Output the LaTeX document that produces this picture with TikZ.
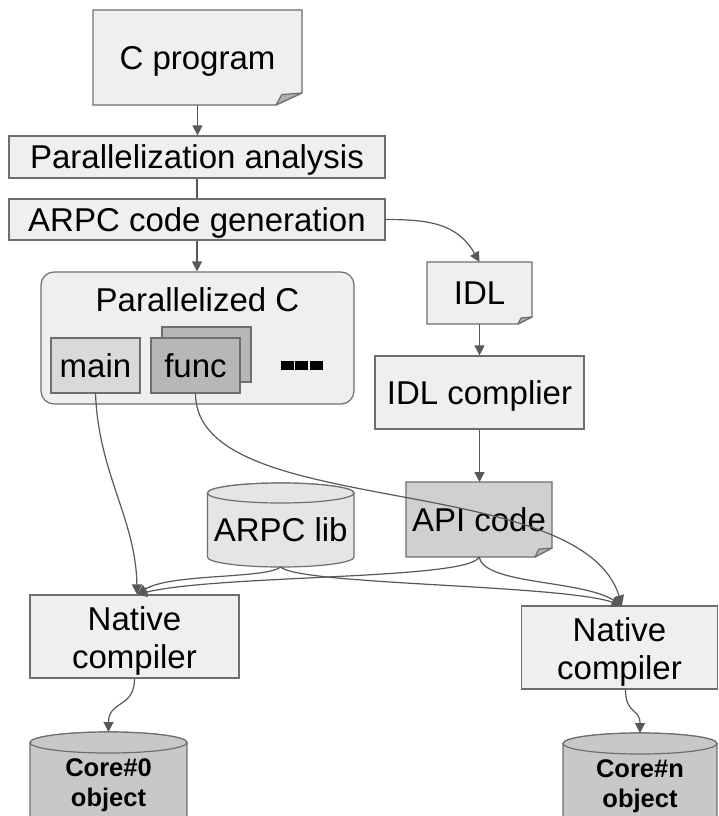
\documentclass[tikz,border=0pt]{standalone}
\usepackage{fontspec}
\setmainfont{Liberation Sans}
\usetikzlibrary{arrows.meta,calc,backgrounds}
\definecolor{bord}{HTML}{6E6E6E}
\definecolor{arr}{HTML}{595959}
\definecolor{lightfill}{HTML}{EFEFEF}
\definecolor{mainfill}{HTML}{D9D9D9}
\definecolor{funcfill}{HTML}{B7B7B7}
\definecolor{apifill}{HTML}{D0D0D0}
\definecolor{libfill}{HTML}{E5E5E5}
\definecolor{corefill}{HTML}{C8C8C8}
\definecolor{foldfill}{HTML}{B0B0B0}
\tikzset{
  outline/.style={draw=bord, line width=1.2pt},
  box/.style={outline, fill=lightfill, inner sep=0pt, font=\fontsize{33}{38}\selectfont, text height=23.6pt, text depth=0pt},
  ghost/.style={inner sep=0pt, outer sep=0pt, font=\fontsize{33}{38}\selectfont, text height=23.6pt, text depth=0pt},
  twoline/.style={outline, fill=lightfill, inner sep=0pt, font=\fontsize{33}{38}\selectfont, align=center, text height=69.9pt},
  coretext/.style={inner sep=0pt, outer sep=0pt, font=\fontsize{25.5}{30}\selectfont\bfseries, align=center},
  dotsq/.style={fill=black, inner sep=0pt, minimum width=13pt, minimum height=9.5pt},
  conn/.style={draw=arr, line width=1.2pt, -{Triangle[length=10pt,width=10pt]}},
  link/.style={draw=arr, line width=1.2pt}
}
\newcommand{\notebox}[4]{%
  \draw[outline, fill=#2] (#1.north west) -- (#1.north east) -- ([yshift=#4pt]#1.south east) -- ([xshift=-#3pt]#1.south east) -- (#1.south west) -- cycle;
  \draw[outline, fill=foldfill, line join=round] ([xshift=-#3pt]#1.south east) -- ([yshift=#4pt]#1.south east) -- ([xshift=-0.78*#3pt, yshift=0.87*#4pt]#1.south east) -- cycle;
}
\newcommand{\cylbox}[4]{%
  \draw[outline, fill=#2] ([yshift=-#4pt]#1.north west) -- ([yshift=#4pt]#1.south west) arc[start angle=180, end angle=360, x radius=#3pt, y radius=#4pt] -- ([yshift=-#4pt]#1.north east) arc[start angle=0, end angle=180, x radius=#3pt, y radius=#4pt] -- cycle;
  \draw[outline, fill=#2] ([yshift=-#4pt]#1.north) ellipse [x radius=#3pt, y radius=#4pt];
}
\begin{document}
\begin{tikzpicture}[x=1pt, y=1pt]
\useasboundingbox (0,0) rectangle (718,-816);

% top chain
\node[ghost, minimum width=209pt, minimum height=95pt] (cprog) at (197.5,-57.5) {C program};
\node[box, minimum width=376pt, minimum height=42pt] (para) at (197,-157) {Parallelization analysis};
\node[box, minimum width=376pt, minimum height=41pt] (arpcgen) at (197,-219.5) {ARPC code generation};

% parallelized C container
\node[outline, fill=lightfill, rounded corners=13pt, minimum width=313pt, minimum height=132pt, inner sep=0pt] (parc) at (197.5,-338) {};
\node[ghost] (parclabel) at (197.5,-299.5) {Parallelized C};
\node[box, fill=funcfill, minimum width=89pt, minimum height=55pt] (funcback) at (206.5,-354.5) {};
\node[box, fill=mainfill, minimum width=89pt, minimum height=55pt] (main) at (95.5,-365.5) {main};
\node[box, fill=funcfill, minimum width=89pt, minimum height=55pt] (func) at (195.5,-365.5) {func};
\node[dotsq] (dot1) at (287.5,-365.5) {};
\node[dotsq] (dot2) at (301.7,-365.5) {};
\node[dotsq] (dot3) at (316,-365.5) {};

% IDL chain
\node[ghost, minimum width=105pt, minimum height=62pt] (idl) at (479.5,-293) {IDL};
\node[box, minimum width=209pt, minimum height=73pt] (idlc) at (479.5,-392.5) {IDL complier};
\node[ghost, minimum width=146pt, minimum height=75pt] (api) at (479,-519.5) {API code};

% library
\node[ghost, minimum width=146.6pt, minimum height=84pt, text height=33.6pt] (arpclib) at (280.7,-525) {ARPC lib};

% native compilers
\node[twoline, minimum width=209pt, minimum height=83pt] (nc1) at (134.5,-636.5) {Native\\compiler};
\node[twoline, minimum width=196pt, minimum height=83pt] (nc2) at (619.5,-647.5) {Native\\compiler};

% core objects
\node[coretext, minimum width=157pt, minimum height=107pt] (core0) at (108.5,-785.5) {Core\#0\\object};
\node[coretext, minimum width=154pt, minimum height=107pt] (coren) at (640,-786.5) {Core\#n\\object};

\begin{pgfonlayer}{background}
  \fill[white] (0,0) rectangle (718,-816);
  \notebox{cprog}{lightfill}{26}{12}
  \notebox{idl}{lightfill}{14}{7}
  \notebox{api}{apifill}{17}{9}
  \cylbox{arpclib}{libfill}{73.3}{10}
  \cylbox{core0}{corefill}{78.5}{10.5}
  \cylbox{coren}{corefill}{77}{10.5}
\end{pgfonlayer}

% connectors
\draw[conn] (cprog.south) -- (cprog.south |- para.north);
\draw[link] (para.south) -- (arpcgen.north);
\draw[conn] (arpcgen.south) -- (arpcgen.south |- parc.north);
\draw[conn] (arpcgen.east) to[out=0, in=120, looseness=1.1] (idl.north);
\draw[conn] (idl.south) -- (idlc.north);
\draw[conn] (idlc.south) -- (idlc.south |- api.north);

\draw[conn] (main.south) .. controls +(3,-80) and +(-1,75) .. ([xshift=2.5pt]nc1.north);
\draw[conn] (func.south) .. controls +(0,-127) and +(-42,136) .. ([xshift=2.5pt]nc2.north);
\draw[conn] (arpclib.south) .. controls +(-15,-12) and +(33,21) .. ([xshift=2.5pt]nc1.north);
\draw[conn] (api.south) .. controls +(-9,-23) and +(83,20) .. ([xshift=2.5pt]nc1.north);
\draw[conn] (arpclib.south) .. controls +(19,-18) and +(-62,21) .. ([xshift=2.5pt]nc2.north);
\draw[conn] (api.south) .. controls +(6,-28) and +(-42,26) .. ([xshift=2.5pt]nc2.north);

\draw[conn] (nc1.south) .. controls +(0,-30) and +(0,32) .. (core0.north);
\draw[conn] ([xshift=6pt]nc2.south) .. controls +(0,-25) and +(0,25) .. (coren.north);
\end{tikzpicture}
\end{document}
